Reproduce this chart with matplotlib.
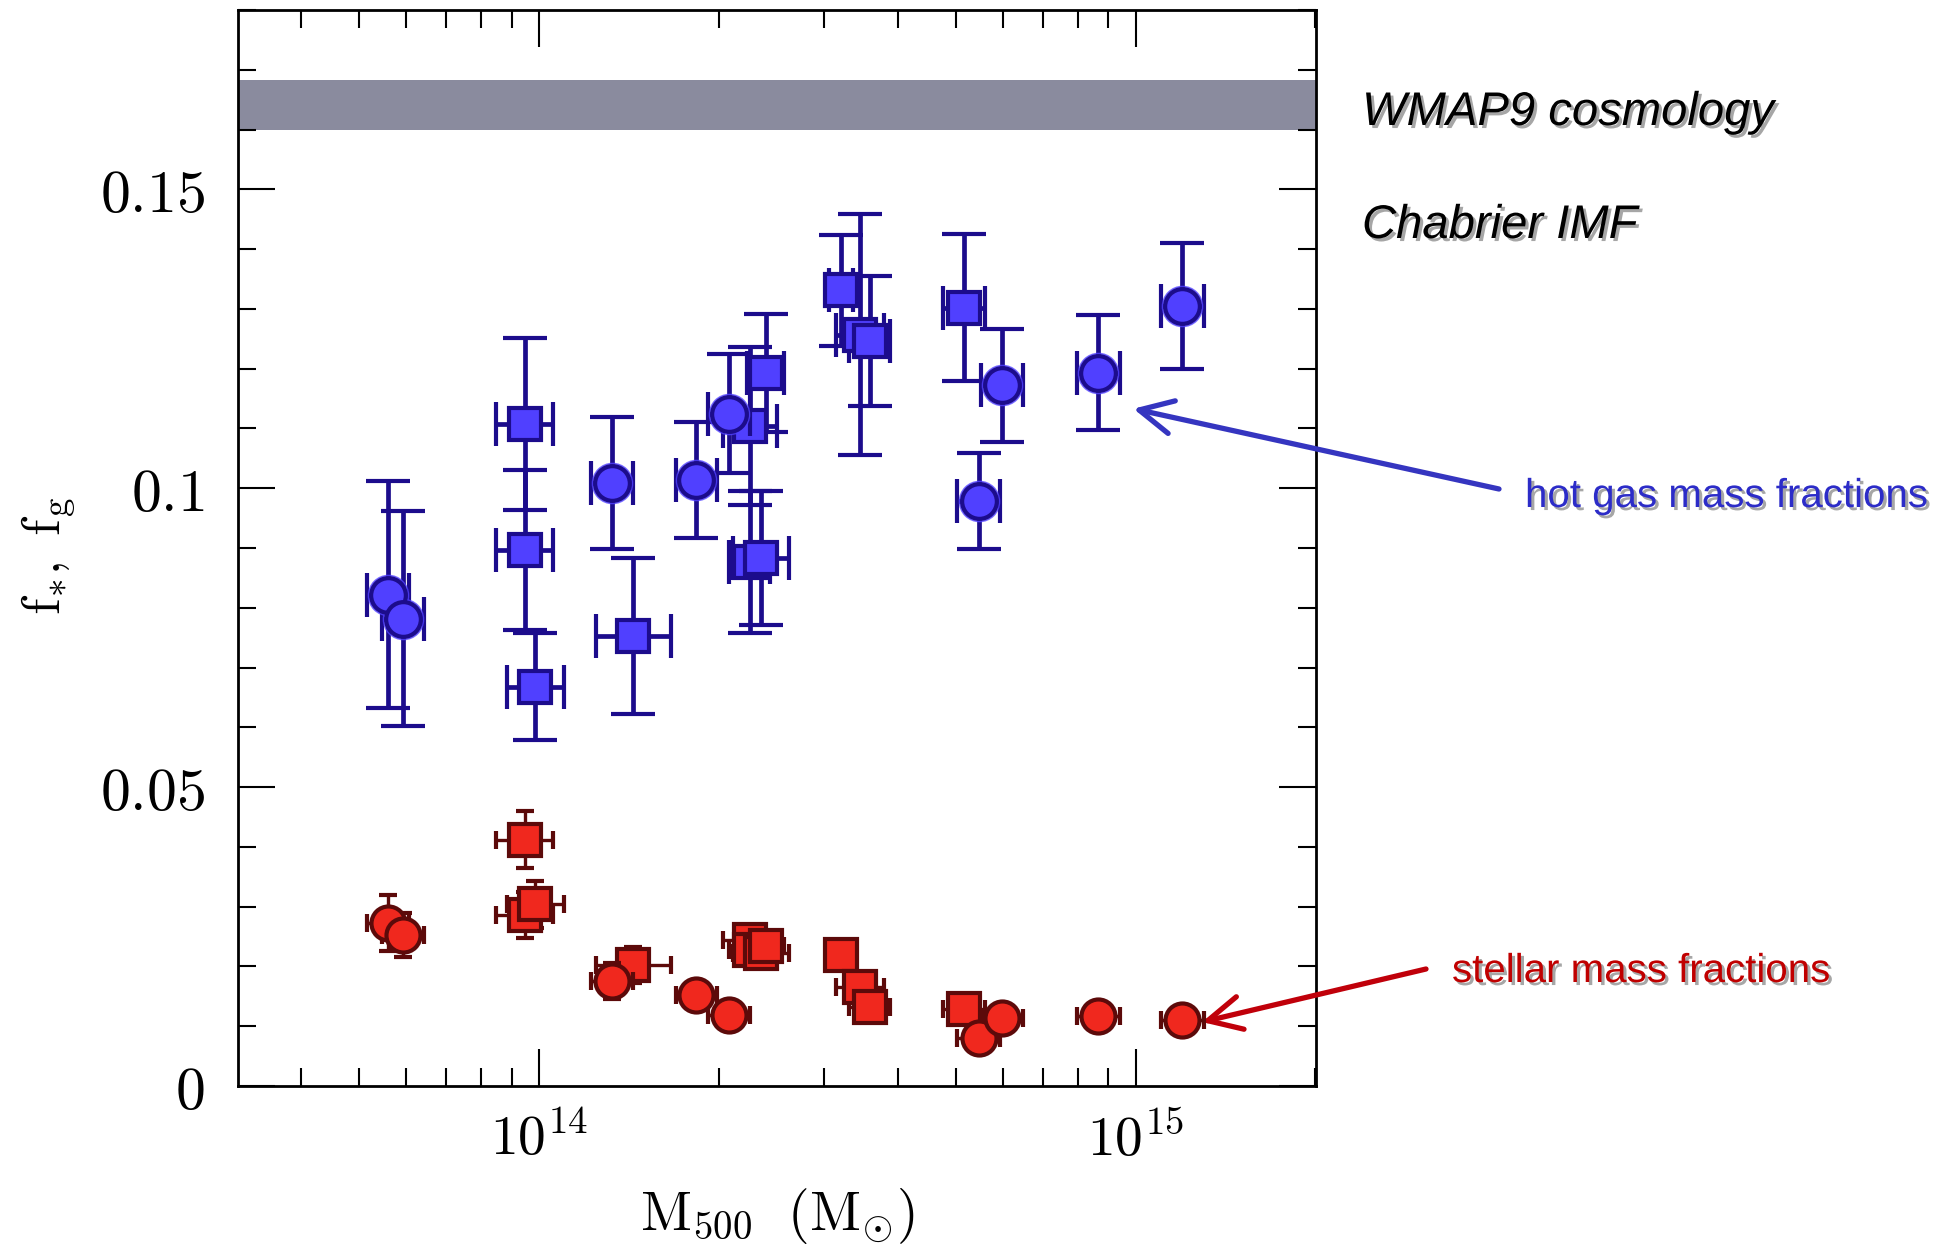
import numpy as np
import matplotlib
matplotlib.use('Agg')
import matplotlib.pyplot as plt
from matplotlib import patheffects as pe
from matplotlib.ticker import MultipleLocator, LogLocator, FuncFormatter, NullFormatter

plt.rcParams['mathtext.fontset'] = 'cm'

# clusters drawn as circles: log10 M500, half-width of mass error (dex), fractions
logm_c = [13.747, 13.773, 14.123, 14.264, 14.319, 14.737, 14.776, 14.937, 15.078]
dlogm_c = [0.035, 0.035, 0.035, 0.035, 0.035, 0.036, 0.035, 0.036, 0.036]
fgas_c = [0.0822, 0.0782, 0.1009, 0.1013, 0.1125, 0.0979, 0.1172, 0.1193, 0.1305]
dfgas_c = [0.0190, 0.0180, 0.0110, 0.0097, 0.0099, 0.0080, 0.0095, 0.0096, 0.0105]
fstar_c = [0.0273, 0.0253, 0.0175, 0.0153, 0.0119, 0.0081, 0.0114, 0.0117, 0.0110]
dfstar_c = [0.0047, 0.0037, 0.0030, 0.0020, 0.0020, 0.0020, 0.0020, 0.0020, 0.0020]

# clusters drawn as squares
logm_s = [13.976, 13.976, 13.994, 14.158, 14.354, 14.353, 14.372, 14.380,
          14.506, 14.538, 14.554, 14.712]
dlogm_s = [0.047, 0.047, 0.048, 0.063, 0.045, 0.035, 0.047, 0.031,
           0.020, 0.040, 0.035, 0.035]
fgas_s = [0.1107, 0.0896, 0.0668, 0.0753, 0.1104, 0.0876, 0.0883, 0.1193,
          0.1331, 0.1257, 0.1246, 0.1302]
dfgas_s = [0.0144, 0.0134, 0.0089, 0.0130, 0.0132, 0.0119, 0.0112, 0.0099,
           0.0093, 0.0202, 0.0109, 0.0123]
fstar_s = [0.0412, 0.0286, 0.0304, 0.0202, 0.0244, 0.0228, 0.0222, 0.0234,
           0.0219, 0.0166, 0.0132, 0.0128]
dfstar_s = [0.0048, 0.0038, 0.0039, 0.0030, 0.0020, 0.0020, 0.0020, 0.0020,
            0.0020, 0.0020, 0.0020, 0.0020]

# cosmic baryon fraction band
fb_lo, fb_hi = 0.160, 0.1683

blue_fill, blue_edge = '#5040ff', '#1c0c8c'
red_fill, red_edge = '#f0281e', '#5c0a0a'


def mass_err(logm, dlogm):
    logm = np.array(logm)
    dlogm = np.array(dlogm)
    m = 10 ** logm
    return m, [m - 10 ** (logm - dlogm), 10 ** (logm + dlogm) - m]


def draw(ax, logm, dlogm, f, df, marker, ms, fill, edge, elw, cap, z, halo=False):
    m, xerr = mass_err(logm, dlogm)
    ax.errorbar(m, f, xerr=xerr, yerr=df, fmt=marker, ms=ms, mfc=fill, mec=edge,
                mew=3, ecolor=edge, elinewidth=elw, capsize=cap, capthick=elw,
                zorder=z)
    if halo:
        ax.plot(m, f, marker, ms=ms + 4, mfc=fill, mec=fill, alpha=0.7,
                zorder=z + 0.05)


fig = plt.figure(figsize=(19.46, 12.47), dpi=100)
ax = fig.add_axes([238 / 1946, 161 / 1247, 1078 / 1946, 1076 / 1247])

ax.axhspan(fb_lo, fb_hi, color='#8a8b9e', lw=0, zorder=1)

draw(ax, logm_s, dlogm_s, fgas_s, dfgas_s, 's', 22.5, blue_fill, blue_edge, 3.4, 15.5, 2)
draw(ax, logm_c, dlogm_c, fgas_c, dfgas_c, 'o', 25, blue_fill, blue_edge, 3.4, 15.5, 3, halo=True)
draw(ax, logm_s, dlogm_s, fstar_s, dfstar_s, 's', 23, red_fill, red_edge, 2.4, 6.3, 4)
draw(ax, logm_c, dlogm_c, fstar_c, dfstar_c, 'o', 24.5, red_fill, red_edge, 2.4, 6.3, 5)

ax.set_xscale('log')
ax.set_xlim(10 ** 13.496, 10 ** 15.302)
ax.set_ylim(0, 0.18)

ax.xaxis.set_major_locator(LogLocator(base=10, numticks=10))
ax.xaxis.set_minor_locator(LogLocator(base=10, subs=np.arange(2, 10), numticks=20))
ax.xaxis.set_minor_formatter(NullFormatter())
ax.xaxis.set_major_formatter(FuncFormatter(lambda v, p: r'$10^{%d}$' % round(np.log10(v))))
ax.yaxis.set_major_locator(MultipleLocator(0.05))
ax.yaxis.set_minor_locator(MultipleLocator(0.01))
ax.yaxis.set_major_formatter(FuncFormatter(lambda v, p: r'$%g$' % round(v, 3)))

ax.tick_params(which='both', direction='in', top=True, right=True, width=1.5)
ax.tick_params(which='major', length=26.5)
ax.tick_params(which='minor', length=13)
ax.tick_params(axis='y', pad=24, labelsize=43)
ax.tick_params(axis='x', pad=20, labelsize=40)
for s in ax.spines.values():
    s.set_linewidth(2)

fig.text(777 / 1946, 1 - 1230 / 1247, r'$\mathrm{M}_{500}\ \ (\mathrm{M}_{\odot})$',
         fontsize=40, ha='center', va='baseline')
fig.text(49 / 1946, 1 - 556 / 1247, r'$\mathrm{f}_{*},\ \mathrm{f}_{\mathrm{g}}$',
         fontsize=38, rotation=90, ha='center', va='center')

sans = ['Liberation Sans', 'DejaVu Sans']
shadow = [pe.withSimplePatchShadow(offset=(2.2, -2.2), shadow_rgbFace='0.5', alpha=0.7)]

fig.text(1362 / 1946, 1 - 125 / 1247, 'WMAP9 cosmology', fontsize=34, style='italic',
         family=sans, va='baseline', path_effects=shadow)
fig.text(1362 / 1946, 1 - 238 / 1247, 'Chabrier IMF', fontsize=34, style='italic',
         family=sans, va='baseline', path_effects=shadow)
fig.text(1525 / 1946, 1 - 507 / 1247, 'hot gas mass fractions', fontsize=29,
         color='#2c2cc8', family=sans, va='baseline', path_effects=shadow)
fig.text(1452 / 1946, 1 - 982 / 1247, 'stellar mass fractions', fontsize=29,
         color='#c00000', family=sans, va='baseline', path_effects=shadow)

ax.annotate('', xy=(10 ** 14.996, 0.1133), xycoords='data',
            xytext=(1499 / 1946, 1 - 489 / 1247), textcoords='figure fraction',
            arrowprops=dict(arrowstyle='->,head_length=0.6,head_width=0.3',
                            color='#3535c0', lw=3.8, mutation_scale=40,
                            shrinkA=0, shrinkB=0),
            annotation_clip=False)
ax.annotate('', xy=(10 ** 15.111, 0.0107), xycoords='data',
            xytext=(1426 / 1946, 1 - 969 / 1247), textcoords='figure fraction',
            arrowprops=dict(arrowstyle='->,head_length=0.6,head_width=0.3',
                            color='#c0000a', lw=3.8, mutation_scale=40,
                            shrinkA=0, shrinkB=0),
            annotation_clip=False)

fig.savefig('out.png', dpi=100)
